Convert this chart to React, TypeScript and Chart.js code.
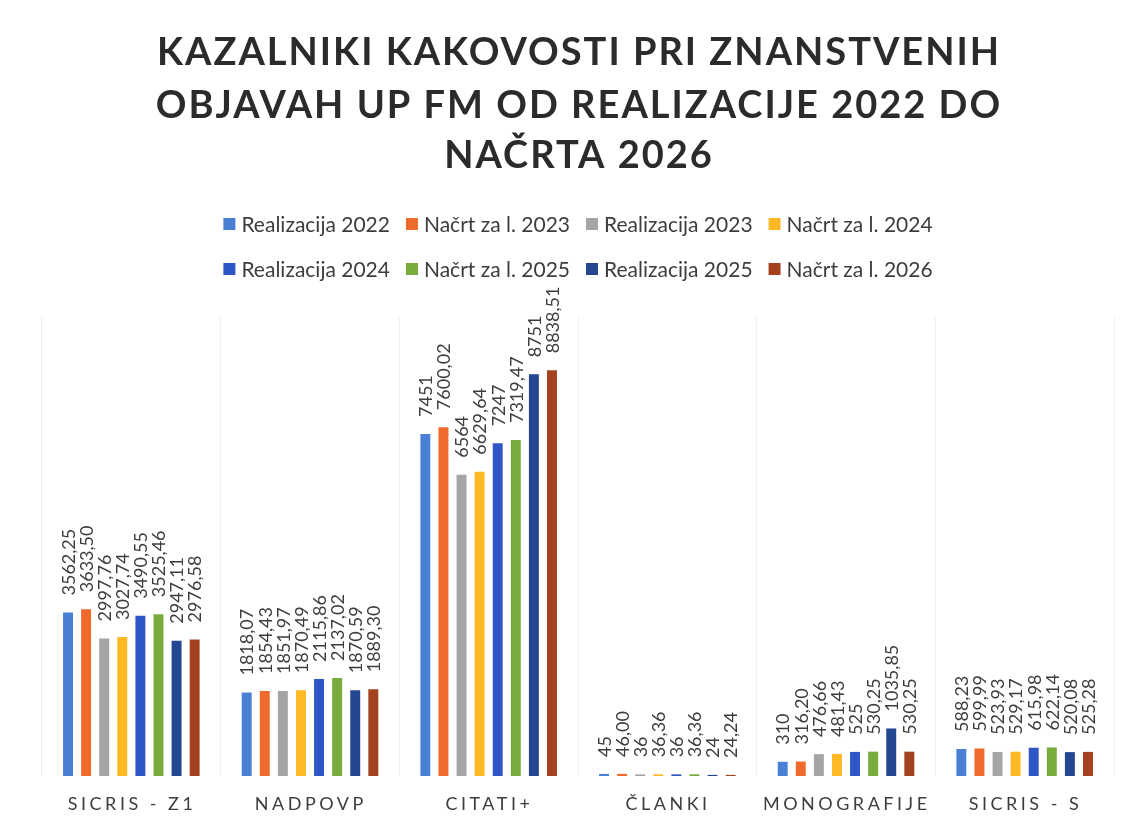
import React, { useEffect, useRef } from "react";
import { Chart, registerables } from "chart.js";

Chart.register(...registerables);

const titleLines = [
  "KAZALNIKI KAKOVOSTI PRI ZNANSTVENIH",
  "OBJAVAH UP FM OD REALIZACIJE 2022 DO",
  "NAČRTA 2026",
];

const categories = ["SICRIS - Z1", "NADPOVP", "CITATI+", "ČLANKI", "MONOGRAFIJE", "SICRIS - S"];

const seriesNames = [
  "Realizacija 2022",
  "Načrt za l. 2023",
  "Realizacija 2023",
  "Načrt za l. 2024",
  "Realizacija 2024",
  "Načrt za l. 2025",
  "Realizacija 2025",
  "Načrt za l. 2026",
];

const realizacija2022 = [3562.25, 1818.07, 7451, 45, 310, 588.23];
const nacrt2023 = [3633.5, 1854.43, 7600.02, 46.0, 316.2, 599.99];
const realizacija2023 = [2997.76, 1851.97, 6564, 36, 476.66, 523.93];
const nacrt2024 = [3027.74, 1870.49, 6629.64, 36.36, 481.43, 529.17];
const realizacija2024 = [3490.55, 2115.86, 7247, 36, 525, 615.98];
const nacrt2025 = [3525.46, 2137.02, 7319.47, 36.36, 530.25, 622.14];
const realizacija2025 = [2947.11, 1870.59, 8751, 24, 1035.85, 520.08];
const nacrt2026 = [2976.58, 1889.3, 8838.51, 24.24, 530.25, 525.28];

const seriesValues = [
  realizacija2022,
  nacrt2023,
  realizacija2023,
  nacrt2024,
  realizacija2024,
  nacrt2025,
  realizacija2025,
  nacrt2026,
];

// plan series are always shown with two decimals
const alwaysTwoDecimals = [false, true, false, true, false, true, false, true];

const seriesColors = [
  "#4a7fd6",
  "#f06b2b",
  "#a5a5a5",
  "#ffb925",
  "#2f56c6",
  "#77ab3c",
  "#234791",
  "#a4421f",
];

const TEXT = "#3d3d3d";
const FONT = "Lato, 'Open Sans', sans-serif";

function fmt(v: number, two: boolean): string {
  if (!two && Number.isInteger(v)) return String(v);
  return v.toFixed(2).replace(".", ",");
}

const titlePlugin = {
  id: "customTitle",
  afterDraw(chart: any) {
    const ctx = chart.ctx;
    const { left, right } = chart.chartArea;
    const cx = (left + right) / 2;
    const spacing = 2;
    ctx.save();
    ctx.font = `bold 38px ${FONT}`;
    (ctx as any).letterSpacing = `${spacing}px`;
    ctx.fillStyle = "#2b2b2b";
    ctx.textAlign = "center";
    ctx.textBaseline = "alphabetic";
    const baselines = [57, 110, 160];
    titleLines.forEach((line, i) => {
      ctx.fillText(line, cx + spacing / 2, baselines[i]);
    });
    ctx.restore();
  },
};

const legendPlugin = {
  id: "customLegend",
  afterDraw(chart: any) {
    const ctx = chart.ctx;
    const { left, right } = chart.chartArea;
    const cx = (left + right) / 2;
    const datasets = chart.data.datasets;
    const rows = [datasets.slice(0, 4), datasets.slice(4, 8)];
    const baselines = [224, 269];
    const box = 12;
    const boxGap = 6;
    const itemGap = 16;
    ctx.save();
    ctx.font = `21px ${FONT}`;
    ctx.textBaseline = "alphabetic";
    ctx.textAlign = "left";
    rows.forEach((row: any[], r: number) => {
      const widths = row.map((d) => box + boxGap + ctx.measureText(d.label).width);
      const total = widths.reduce((a, b) => a + b, 0) + itemGap * (row.length - 1);
      let x = cx - total / 2;
      const base = baselines[r];
      row.forEach((d, i) => {
        ctx.fillStyle = d.backgroundColor;
        ctx.fillRect(x, base - 14, box, box);
        ctx.fillStyle = TEXT;
        ctx.fillText(d.label, x + box + boxGap, base);
        x += widths[i] + itemGap;
      });
    });
    ctx.restore();
  },
};

const xLabelPlugin = {
  id: "xLabels",
  afterDraw(chart: any) {
    const ctx = chart.ctx;
    const xScale = chart.scales.x;
    const spacing = 3.5;
    ctx.save();
    ctx.font = `18px ${FONT}`;
    (ctx as any).letterSpacing = `${spacing}px`;
    ctx.fillStyle = TEXT;
    ctx.textAlign = "center";
    ctx.textBaseline = "alphabetic";
    const y = chart.chartArea.bottom + 34;
    categories.forEach((c, i) => {
      const x = xScale.getPixelForValue(i);
      ctx.fillText(c, x - 1 + spacing / 2, y);
    });
    ctx.restore();
  },
};

const dataLabelPlugin = {
  id: "barValueLabels",
  afterDatasetsDraw(chart: any) {
    const ctx = chart.ctx;
    ctx.save();
    ctx.font = `18px ${FONT}`;
    ctx.fillStyle = TEXT;
    ctx.textAlign = "left";
    ctx.textBaseline = "middle";
    chart.data.datasets.forEach((ds: any, di: number) => {
      const meta = chart.getDatasetMeta(di);
      meta.data.forEach((bar: any, i: number) => {
        const text = fmt(ds.data[i], alwaysTwoDecimals[di]);
        ctx.save();
        ctx.translate(bar.x, bar.y - 17);
        ctx.rotate(-Math.PI / 2);
        ctx.fillText(text, 0, 1);
        ctx.restore();
      });
    });
    ctx.restore();
  },
};

export default function App() {
  const canvasRef = useRef<HTMLCanvasElement | null>(null);

  useEffect(() => {
    if (!canvasRef.current) return;
    const chart = new Chart(canvasRef.current, {
      type: "bar",
      data: {
        labels: categories,
        datasets: seriesNames.map((name, i) => ({
          label: name,
          data: seriesValues[i],
          backgroundColor: seriesColors[i],
          borderWidth: 0,
          categoryPercentage: 0.81,
          barPercentage: 0.55,
        })),
      },
      options: {
        animation: false,
        responsive: true,
        maintainAspectRatio: false,
        layout: { padding: { top: 309, bottom: 45, left: 34, right: 6 } },
        plugins: {
          legend: { display: false },
          title: { display: false },
          tooltip: { enabled: false },
        },
        scales: {
          x: {
            display: true,
            ticks: { display: false },
            grid: { display: true, drawTicks: false, offset: true, color: "#efefef", lineWidth: 1 },
            border: { display: false },
          },
          y: {
            display: false,
            min: 0,
            max: 10000,
          },
        },
      },
      plugins: [dataLabelPlugin, titlePlugin, legendPlugin, xLabelPlugin],
    });
    return () => chart.destroy();
  }, []);

  return (
    <div style={{ width: 1112, height: 813, position: "relative" }}>
      <canvas ref={canvasRef} />
    </div>
  );
}
